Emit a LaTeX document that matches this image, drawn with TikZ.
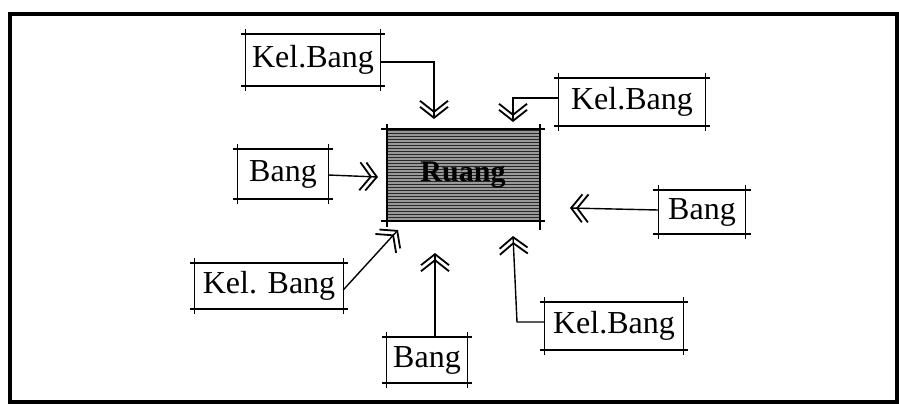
\documentclass[tikz,border=0pt]{standalone}
\usepackage{fontspec}
\setmainfont{Liberation Serif}
\usetikzlibrary{arrows.meta,patterns}
\begin{document}
\begin{tikzpicture}[x=1pt, y=-1pt,
  label/.style={inner sep=0pt, font=\fontsize{32}{32}\selectfont},
  inflow/.style={line width=1.4pt,
    -{Straight Barb[length=11pt,width=28pt,sep=-7pt,line width=1.8pt]Straight Barb[length=11pt,width=28pt,line width=1.8pt]}}]
  % Define colors
  \definecolor{hatchcolor}{RGB}{40,40,40}

  % Frame and page size
  \useasboundingbox (0,0) rectangle (899,413);
  \draw[line width=3.5pt] (10,14) rectangle (897,402);

  % Central room
  \fill[black!40] (387,129) rectangle (540,221);
  \fill[pattern=horizontal lines, pattern color=hatchcolor] (387,129) rectangle (540,221);
  \node[label, font=\fontsize{30}{30}\selectfont\bfseries] (ruang) at (463,175) {Ruang};
  \draw[line width=2.6pt] (381,129) -- (545,129);
  \draw[line width=2.6pt] (381,221) -- (545,221);
  \draw[line width=1.4pt] (387,124) -- (387,227);
  \draw[line width=1.4pt] (540,124) -- (540,230);

  % Surrounding rooms
  \node[label, minimum width=134pt, minimum height=52pt] (kbNW) at (313,60) {Kel.Bang};
  \node[label, minimum width=146pt, minimum height=47pt] (kbNE) at (632,102) {Kel.Bang};
  \node[label, minimum width=90pt, minimum height=49pt] (bangW) at (283,174) {Bang};
  \node[label, minimum width=87pt, minimum height=44pt] (bangE) at (702,212) {Bang};
  \node[label, minimum width=148pt, minimum height=45pt] (kbSW) at (269,286) {Kel. Bang};
  \node[label, minimum width=80pt, minimum height=46pt] (bangS) at (427,360) {Bang};
  \node[label, minimum width=138pt, minimum height=48pt] (kbSE) at (614,326) {Kel.Bang};

  % Sketchy box outlines with crossing corners
  \foreach \n in {kbNW,kbNE,bangW,bangE,kbSW,bangS,kbSE} {
    \draw[line width=1.8pt] ([xshift=-5pt]\n.north west) -- ([xshift=5pt]\n.north east);
    \draw[line width=1.8pt] ([xshift=-5pt]\n.south west) -- ([xshift=5pt]\n.south east);
    \draw[line width=1.3pt] ([yshift=5pt]\n.north west) -- ([yshift=-5pt]\n.south west);
    \draw[line width=1.3pt] ([yshift=5pt]\n.north east) -- ([yshift=-5pt]\n.south east);
  }

  % Arrow ends near the room
  \coordinate (inNW) at (434,119);
  \coordinate (inNE) at (513,122);
  \coordinate (inW) at (378,177);
  \coordinate (inE) at (570,208);
  \coordinate (inSW) at (398,230);
  \coordinate (inS) at (435,253);
  \coordinate (inSE) at (513,236);

  % Connectors
  \draw[inflow] (kbNW.east |- 0,62) -| (inNW);
  \draw[inflow] (kbNE.west |- 0,98) -| (inNE);
  \draw[inflow] (bangW.east |- 0,175) -- (inW);
  \draw[inflow] (bangE.west |- 0,210) -- (inE);
  \draw[inflow] (kbSW.east |- 0,290) -- (inSW);
  \draw[inflow] (bangS.north -| inS) -- (inS);
  \draw[inflow] (kbSE.west |- 0,322) -- (517,322) -- (inSE);
\end{tikzpicture}
\end{document}
